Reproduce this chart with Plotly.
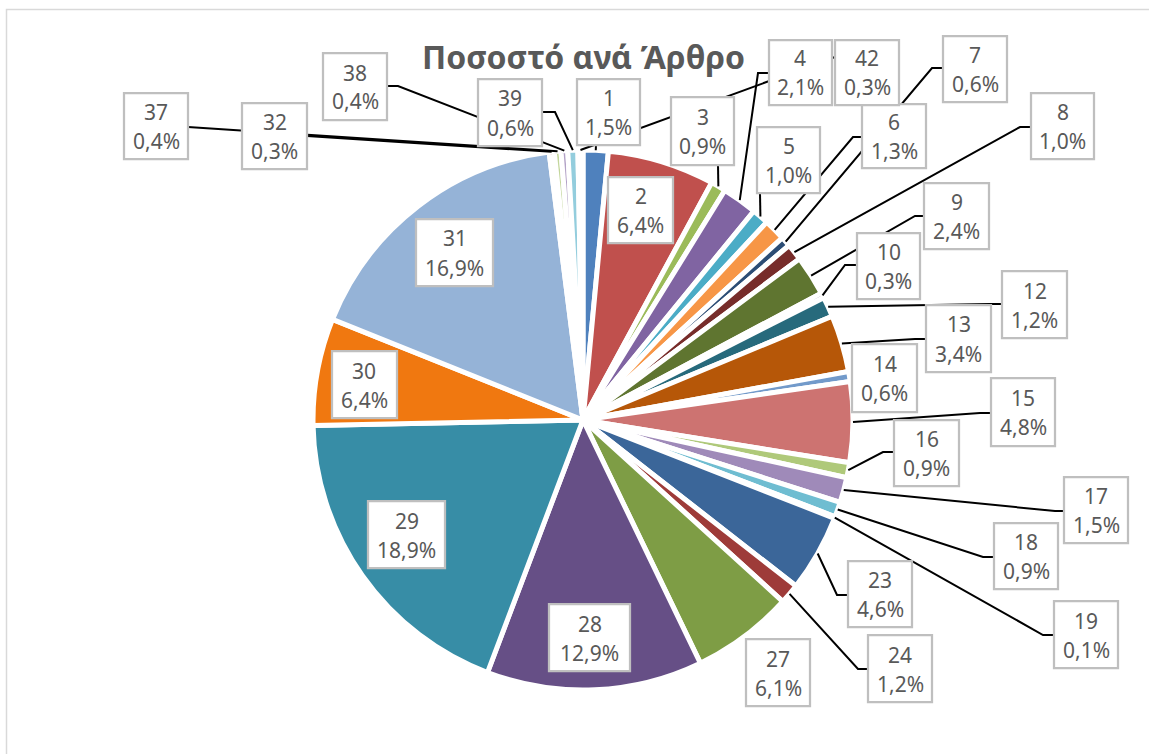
import math
import plotly.graph_objects as go

# ---------------- data ----------------
articles = ["1", "2", "3", "4", "5", "6", "7", "8", "9", "10", "12", "13", "14", "15",
            "16", "17", "18", "19", "23", "24", "27", "28", "29", "30", "31", "32",
            "37", "38", "39", "42"]
shares = [1.5, 6.4, 0.9, 2.1, 1.0, 1.3, 0.6, 1.0, 2.4, 0.3, 1.2, 3.4, 0.6, 4.8,
          0.9, 1.5, 0.9, 0.1, 4.6, 1.2, 6.1, 12.9, 18.9, 6.4, 16.9, 0.3,
          0.4, 0.4, 0.6, 0.3]
colors = ["#4F81BD", "#C0504D", "#9BBB59", "#8064A2", "#4BACC6", "#F79646",
          "#2C4D75", "#772C2A", "#5F7530", "#4D3B62", "#276A7C", "#B65708",
          "#729ACA", "#CD7371", "#AFC97A", "#9F8AB9", "#6FBDD1", "#F9AB6B",
          "#3B6699", "#9E3B39", "#7E9D45", "#664F86", "#378DA6", "#F07810",
          "#95B3D7", "#D99694", "#C3D69B", "#B3A2C7", "#93CDDD", "#FAC090"]
title_text = "Ποσοστό ανά Άρθρο"

# ---------------- layout (pixels) ----------------
W, H = 1149, 754
CX, CY, R = 583, 420, 270

# label boxes: left, top, right, bottom
label_boxes = {
    "1": (577, 79, 640, 145), "2": (608, 177, 673, 243), "3": (671, 97, 734, 165),
    "4": (769, 40, 832, 105), "5": (757, 127, 820, 193), "6": (862, 104, 926, 168),
    "7": (943, 36, 1007, 102), "8": (1031, 93, 1094, 159), "9": (924, 183, 989, 249),
    "10": (857, 233, 920, 299), "12": (1002, 271, 1067, 338), "13": (926, 305, 991, 372),
    "14": (852, 344, 917, 412), "15": (991, 378, 1055, 446), "16": (894, 420, 959, 486),
    "17": (1064, 477, 1128, 543), "18": (994, 523, 1058, 589), "19": (1054, 601, 1118, 668),
    "23": (848, 561, 912, 627), "24": (868, 635, 932, 702), "27": (746, 639, 810, 706),
    "28": (549, 604, 630, 671), "29": (368, 501, 445, 568), "30": (332, 351, 397, 418),
    "31": (416, 219, 493, 286), "32": (242, 103, 307, 169), "37": (124, 93, 188, 159),
    "38": (323, 53, 387, 120), "39": (478, 79, 542, 146), "42": (835, 40, 899, 105),
}
# leader-line waypoints after the slice edge point
leader_paths = {
    "1": [(596, 145)], "3": [(718, 165)], "4": [(758, 73), (769, 73)],
    "5": [(760, 193)], "6": [(853, 137), (862, 137)], "7": [(932, 68), (943, 68)],
    "8": [(1020, 127), (1031, 127)], "9": [(915, 216), (924, 216)],
    "10": [(845, 265), (857, 265)], "12": [(990, 304), (1002, 304)],
    "13": [(915, 339), (926, 339)], "15": [(980, 413), (991, 413)],
    "16": [(883, 452), (894, 452)], "17": [(1055, 511), (1064, 511)],
    "18": [(983, 557), (994, 557)], "19": [(1043, 635), (1054, 635)],
    "23": [(837, 595), (848, 595)], "24": [(858, 669), (868, 669)],
    "32": [(307, 136)], "37": [(188, 127)], "38": [(398, 86), (387, 86)],
    "39": [(555, 112), (542, 112)], "42": [(835, 57)],
}


def px(x):
    return x / W


def py(y):
    return 1 - y / H


TEXT_COLOR = "#595959"
FONT = "Noto Sans"

fig = go.Figure(go.Pie(
    labels=articles, values=shares, sort=False, direction="clockwise", rotation=0,
    marker=dict(colors=colors, line=dict(color="white", width=5)),
    textinfo="none", hoverinfo="label+percent", showlegend=False,
    domain=dict(x=[px(CX - R), px(CX + R)], y=[py(CY + R), py(CY - R)]),
))

total = sum(shares)
shapes = []
annotations = []

# leader lines (start point from the slice mid angle)
cum = 0.0
for art, val in zip(articles, shares):
    mid = (cum + val / 2) / total * 2 * math.pi
    cum += val
    if art not in leader_paths:
        continue
    sx = CX + R * math.sin(mid)
    sy = CY - R * math.cos(mid)
    pts = [(sx, sy)] + leader_paths[art]
    path = "M " + " L ".join(f"{px(x):.5f},{py(y):.5f}" for x, y in pts)
    shapes.append(dict(type="path", xref="paper", yref="paper", path=path,
                       line=dict(color="black", width=2), layer="above"))

# label boxes and texts
for art, val in zip(articles, shares):
    l, t, r, b = label_boxes[art]
    shapes.append(dict(type="rect", xref="paper", yref="paper",
                       x0=px(l), x1=px(r), y0=py(b), y1=py(t),
                       fillcolor="white", line=dict(color="#BFBFBF", width=2.25),
                       layer="above"))
    cx = (l + r) / 2
    cy = (t + b) / 2
    pct = f"{val:.1f}".replace(".", ",") + "%"
    annotations.append(dict(text=art, x=px(cx), y=py(cy - 14), xref="paper", yref="paper",
                            xanchor="center", yanchor="middle", showarrow=False,
                            font=dict(family=FONT, size=21, color=TEXT_COLOR)))
    annotations.append(dict(text=pct, x=px(cx), y=py(cy + 15), xref="paper", yref="paper",
                            xanchor="center", yanchor="middle", showarrow=False,
                            font=dict(family=FONT, size=21, color=TEXT_COLOR)))

# chart frame
shapes.append(dict(type="rect", xref="paper", yref="paper",
                   x0=px(6.5), x1=px(1170), y0=py(770), y1=py(9.5),
                   line=dict(color="#D9D9D9", width=1.5), fillcolor="rgba(0,0,0,0)",
                   layer="above"))

annotations.append(dict(text="<b>" + title_text + "</b>", x=px(583), y=py(56),
                        xref="paper", yref="paper", xanchor="center", yanchor="middle",
                        showarrow=False,
                        font=dict(family=FONT, size=32, color=TEXT_COLOR)))

fig.update_layout(
    width=W, height=H, margin=dict(l=0, r=0, t=0, b=0),
    paper_bgcolor="white", plot_bgcolor="white",
    shapes=shapes, annotations=annotations,
)

fig.write_html("out.html", config={"displayModeBar": False},
               post_script="document.body.style.margin='0';document.body.style.overflow='hidden';")
